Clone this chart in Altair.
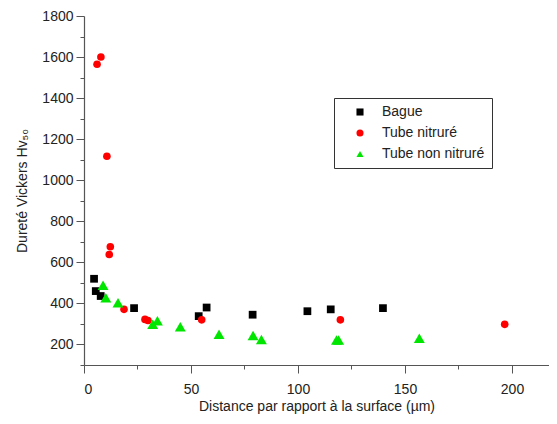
import altair as alt
import pandas as pd

series_names = ["Bague", "Tube nitruré", "Tube non nitruré"]

bague_x = [4.7, 5.5, 7.8, 23.4, 53.6, 57.3, 78.8, 104.4, 115.3, 139.7]
bague_y = [520, 460, 436, 377, 338, 380, 345, 362, 371, 377]

nitrure_x = [6.1, 7.9, 10.7, 12.3, 11.8, 18.7, 28.5, 29.9, 55.0, 119.8, 196.6]
nitrure_y = [1565, 1600, 1117, 676, 638, 371, 322, 317, 320, 320, 298]

non_nitrure_x = [8.9, 10.2, 15.9, 32.1, 34.3, 45.0, 63.1, 79.0, 82.9, 118.0, 119.0, 156.7]
non_nitrure_y = [488, 428, 403, 298, 316, 286, 250, 244, 224, 222, 222, 230]

rows = []
for name, xs, ys in [(series_names[0], bague_x, bague_y),
                     (series_names[1], nitrure_x, nitrure_y),
                     (series_names[2], non_nitrure_x, non_nitrure_y)]:
    for x, y in zip(xs, ys):
        rows.append({"serie": name, "distance": x, "durete": y})
df = pd.DataFrame(rows)

FONT = "Liberation Sans"
x_ticks = [0, 25, 50, 75, 100, 125, 150, 175, 200]
y_ticks = [100, 200, 300, 400, 500, 600, 700, 800, 900, 1000, 1100, 1200,
           1300, 1400, 1500, 1600, 1700, 1800]

chart = alt.Chart(df).transform_calculate(
    taille="datum.serie === 'Tube non nitruré' ? 120 : (datum.serie === 'Bague' ? 60 : 58)"
).mark_point(filled=True, opacity=1).encode(
    x=alt.X("distance:Q",
            scale=alt.Scale(domain=[0, 217.3], nice=False, zero=False),
            axis=alt.Axis(values=x_ticks, format="d",
                          labelExpr="datum.value % 50 === 0 ? datum.label : ''",
                          tickSize={"condition": {"test": "datum.value % 50 === 0", "value": 8}, "value": 4},
                          title="Distance par rapport à la surface (µm)",
                          grid=False, labelPadding=9, titlePadding=3)),
    y=alt.Y("durete:Q",
            scale=alt.Scale(domain=[100, 1800], nice=False, zero=False),
            axis=alt.Axis(values=y_ticks, format="d",
                          labelExpr="datum.value % 200 === 0 ? datum.label : ''",
                          tickSize={"condition": {"test": "datum.value % 200 === 0", "value": 8}, "value": 4},
                          title="Dureté Vickers Hv₅₀",
                          grid=False, labelPadding=3, titlePadding=12)),
    color=alt.Color("serie:N",
                    scale=alt.Scale(domain=series_names, range=["#000000", "#ff0000", "#00e600"]),
                    legend=alt.Legend(title=None, orient="none", legendX=250, legendY=82,
                                      strokeColor="#333333", padding=7,
                                      labelFontSize=14, labelFont=FONT, labelColor="#222222",
                                      labelExpr="datum.label + '\u2003'",
                                      symbolSize=50, rowPadding=7, symbolOffset=12,
                                      labelOffset=15, symbolStrokeWidth=0)),
    shape=alt.Shape("serie:N",
                    scale=alt.Scale(domain=series_names, range=["square", "circle", "triangle-up"]),
                    legend=None),
    size=alt.Size("taille:Q", scale=None, legend=None),
).properties(
    width=465, height=349,
    autosize=alt.AutoSizeParams(type="none"),
    padding={"left": 76, "top": 8, "right": 0, "bottom": 51},
).configure_view(
    stroke=None
).configure_axis(
    labelFont=FONT, titleFont=FONT, labelFontSize=14, titleFontSize=14,
    labelColor="#222222", titleColor="#222222", titleFontWeight="normal",
    domainColor="#555555", tickColor="#555555", domainWidth=1.2, tickWidth=1
)

chart.save("out.html", embed_options={"renderer": "svg", "actions": False})
